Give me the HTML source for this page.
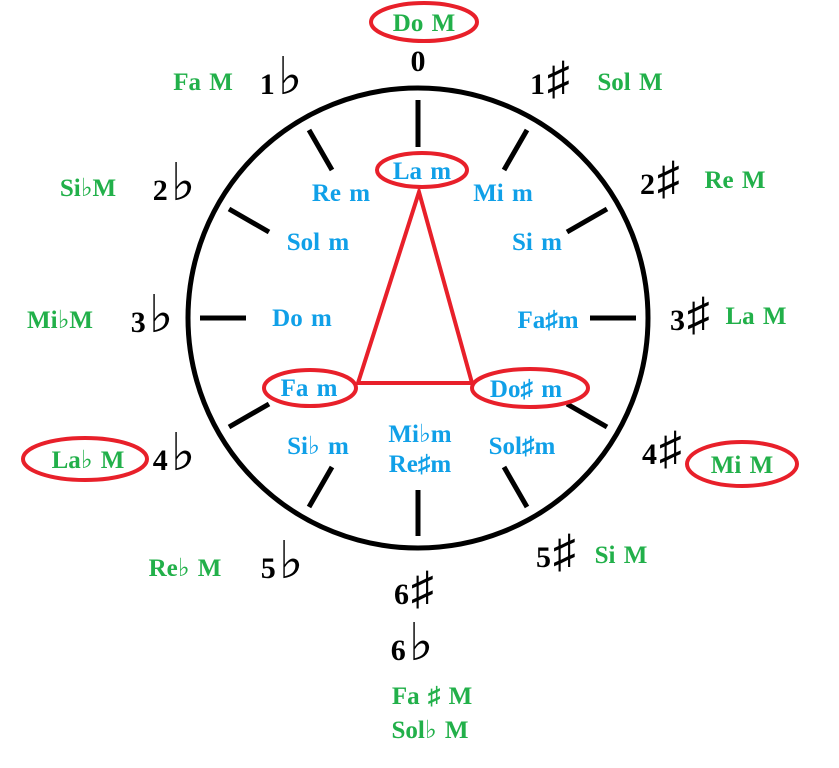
<!DOCTYPE html>
<html><head><meta charset="utf-8"><style>
html,body{margin:0;padding:0;background:#fff;}
svg text{font-family:"Liberation Serif","DejaVu Serif",serif;font-weight:bold;}
.g{fill:#22b04a;font-size:25px;word-spacing:2px;}
.b{fill:#000;font-size:30px;}
.b tspan.f{font-size:52px;font-weight:bold;}
.b tspan.s{font-size:46px;font-weight:normal;}
.c{fill:#10a0e8;font-size:25px;word-spacing:2px;}
</style></head><body>
<svg width="839" height="763" viewBox="0 0 839 763" xmlns="http://www.w3.org/2000/svg">
<circle cx="418" cy="318" r="230" fill="none" stroke="#000" stroke-width="5"/>
<g stroke="#000" stroke-width="5">
<line x1="418" y1="100" x2="418" y2="147"/>
<line x1="527" y1="130" x2="504" y2="170"/>
<line x1="607" y1="209" x2="567" y2="232"/>
<line x1="636" y1="318" x2="590" y2="318"/>
<line x1="607" y1="427" x2="567" y2="404"/>
<line x1="527" y1="507" x2="504" y2="467"/>
<line x1="418" y1="536" x2="418" y2="490"/>
<line x1="309" y1="507" x2="332" y2="467"/>
<line x1="229" y1="427" x2="269" y2="404"/>
<line x1="200" y1="318" x2="246" y2="318"/>
<line x1="229" y1="209" x2="269" y2="232"/>
<line x1="309" y1="130" x2="332" y2="170"/>
</g>
<polygon points="419,192 358,383 472,383" fill="none" stroke="#e8202a" stroke-width="4"/>
<g fill="none" stroke="#e8202a" stroke-width="4">
<ellipse cx="424" cy="22" rx="53" ry="19"/>
<ellipse cx="422" cy="170" rx="45" ry="17"/>
<ellipse cx="310" cy="388" rx="46" ry="18"/>
<ellipse cx="530" cy="388" rx="58" ry="19"/>
<ellipse cx="85" cy="459" rx="62" ry="21"/>
<ellipse cx="742" cy="464" rx="55" ry="22"/>
</g>
<g text-anchor="middle">
<text class="g" x="424" y="31">Do M</text>
<text class="b" x="418" y="71">0</text>
<text class="g" x="203" y="90">Fa M</text>
<text class="b" x="281" y="94">1<tspan class="f" dx="3">♭</tspan></text>
<text class="b" x="550" y="94">1<tspan class="s" dx="2">♯</tspan></text>
<text class="g" x="630" y="90">Sol M</text>
<text class="g" x="88" y="196">Si♭M</text>
<text class="b" x="174" y="200">2<tspan class="f" dx="3">♭</tspan></text>
<text class="b" x="660" y="194">2<tspan class="s" dx="2">♯</tspan></text>
<text class="g" x="735" y="188">Re M</text>
<text class="g" x="60" y="328">Mi♭M</text>
<text class="b" x="152" y="332">3<tspan class="f" dx="3">♭</tspan></text>
<text class="b" x="690" y="330">3<tspan class="s" dx="2">♯</tspan></text>
<text class="g" x="756" y="324">La M</text>
<text class="g" x="88" y="468">La♭ M</text>
<text class="b" x="174" y="470">4<tspan class="f" dx="3">♭</tspan></text>
<text class="b" x="662" y="464">4<tspan class="s" dx="2">♯</tspan></text>
<text class="g" x="742" y="473">Mi M</text>
<text class="g" x="185" y="576">Re♭ M</text>
<text class="b" x="282" y="578">5<tspan class="f" dx="3">♭</tspan></text>
<text class="b" x="556" y="567">5<tspan class="s" dx="2">♯</tspan></text>
<text class="g" x="621" y="563">Si M</text>
<text class="b" x="414" y="604">6<tspan class="s" dx="2">♯</tspan></text>
<text class="b" x="412" y="660">6<tspan class="f" dx="3">♭</tspan></text>
<text class="g" x="432" y="704">Fa ♯ M</text>
<text class="g" x="430" y="738">Sol♭ M</text>
<text class="c" x="422" y="179">La m</text>
<text class="c" x="341" y="201">Re m</text>
<text class="c" x="503" y="201">Mi m</text>
<text class="c" x="318" y="250">Sol m</text>
<text class="c" x="537" y="250">Si m</text>
<text class="c" x="302" y="326">Do m</text>
<text class="c" x="548" y="328">Fa♯m</text>
<text class="c" x="309" y="396">Fa m</text>
<text class="c" x="526" y="397">Do♯ m</text>
<text class="c" x="318" y="454">Si♭ m</text>
<text class="c" x="522" y="454">Sol♯m</text>
<text class="c" x="420" y="442">Mi♭m</text>
<text class="c" x="420" y="472">Re♯m</text>
</g>
</svg>
</body></html>
